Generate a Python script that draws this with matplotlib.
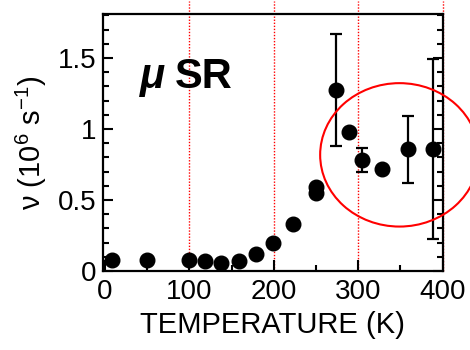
import matplotlib
matplotlib.use("Agg")
import matplotlib.pyplot as plt
from matplotlib.patches import Ellipse
from matplotlib.ticker import MultipleLocator

plt.rcParams['font.family'] = ['Liberation Sans', 'DejaVu Sans']
plt.rcParams['mathtext.fontset'] = 'custom'
plt.rcParams['mathtext.rm'] = 'Liberation Sans'
plt.rcParams['mathtext.it'] = 'Liberation Sans:italic'
plt.rcParams['mathtext.bf'] = 'Liberation Sans:bold'

# Data
temps = [8, 50, 100, 118, 138, 159, 179, 199, 223, 250, 250, 274, 289, 304, 328, 359, 389]
nu = [0.077, 0.077, 0.077, 0.07, 0.054, 0.07, 0.117, 0.2, 0.334, 0.55, 0.59,
      1.275, 0.976, 0.78, 0.715, 0.857, 0.857]
err_t = [274, 304, 359, 389]
err_v = [1.275, 0.78, 0.857, 0.857]
err_lo = [0.88, 0.70, 0.619, 0.222]
err_hi = [1.67, 0.867, 1.093, 1.49]
vlines = [100, 200, 300, 400]

fig = plt.figure(figsize=(4.7, 3.5), dpi=100)
ax = fig.add_axes([0.2198, 0.2257, 0.7217, 0.7343])

for xv in vlines:
    ax.plot([xv, xv], [0, 1.9], color='red', lw=1.0, ls=(0, (1, 1.2)),
            clip_on=False, zorder=1)

yerr = [[v - lo for v, lo in zip(err_v, err_lo)], [hi - v for v, hi in zip(err_v, err_hi)]]
ax.errorbar(err_t, err_v, yerr=yerr, fmt='none', ecolor='black', elinewidth=1.6,
            capsize=4.5, capthick=1.6, zorder=2, clip_on=False)
ax.plot(temps, nu, 'o', color='black', markersize=10.5, zorder=3, clip_on=False)

ell = Ellipse((349, 0.818), 188, 1.01, fill=False, edgecolor='red', lw=1.5,
              clip_on=False, zorder=4)
ax.add_patch(ell)

ax.text(41, 1.29, 'μ', fontsize=30, fontweight='bold', fontstyle='italic',
        ha='left', va='baseline')
ax.text(83, 1.29, 'SR', fontsize=30, fontweight='bold', ha='left', va='baseline')

ax.set_xlim(-2, 400)
ax.set_ylim(0, 1.81)
ax.xaxis.set_major_locator(MultipleLocator(100))
ax.xaxis.set_minor_locator(MultipleLocator(50))
ax.yaxis.set_minor_locator(MultipleLocator(0.1))
ax.set_yticks([0, 0.5, 1, 1.5])
ax.set_yticklabels(['0', '0.5', '1', '1.5'])

ax.tick_params(which='both', direction='in', right=True, top=False, width=1.5,
               labelsize=20)
ax.tick_params(axis='x', which='major', length=8, pad=6)
ax.tick_params(axis='y', which='major', length=7, pad=5)
ax.tick_params(which='minor', length=4)
for s in ax.spines.values():
    s.set_linewidth(1.6)

ax.set_xlabel('TEMPERATURE (K)', fontsize=21, labelpad=4)
ax.set_ylabel('ν (10$^{6}$ s$^{-1}$)', fontsize=21, labelpad=6)

fig.savefig('out.png', dpi=100)
